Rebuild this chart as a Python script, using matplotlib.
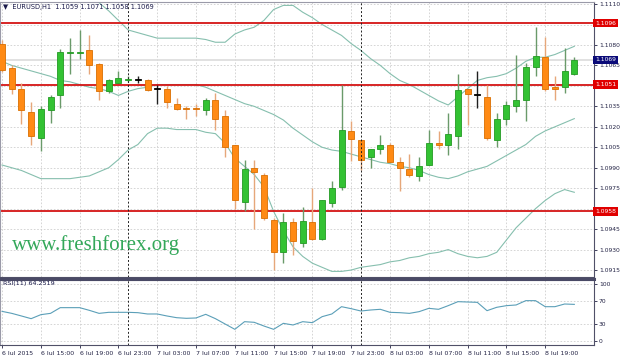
import numpy as np
import matplotlib.pyplot as plt
from matplotlib.lines import Line2D

# EURUSD H1, 6 Jul 11:00 .. 8 Jul 22:00
opens = [1.1081, 1.1063, 1.1048, 1.1031, 1.1012, 1.1032, 1.1043, 1.1074, 1.1074, 1.1076,
         1.1066, 1.1046, 1.1052, 1.1054, 1.1054, 1.1054, 1.1048, 1.1048, 1.1037, 1.1034,
         1.1034, 1.1032, 1.1040, 1.1028, 1.1007, 1.0965, 1.0990, 1.0985, 1.0952, 1.0928,
         1.0950, 1.0935, 1.0950, 1.0938, 1.0964, 1.0976, 1.1017, 1.1010, 1.0998, 1.1004,
         1.1007, 1.0994, 1.0989, 1.0984, 1.0992, 1.1008, 1.1007, 1.1013, 1.1048, 1.1043,
         1.1042, 1.1010, 1.1026, 1.1035, 1.1040, 1.1064, 1.1071, 1.1049, 1.1049, 1.1059]
highs = [1.1084, 1.1065, 1.1052, 1.1038, 1.1035, 1.1043, 1.1077, 1.1085, 1.1091, 1.1087,
         1.1067, 1.1055, 1.1061, 1.1057, 1.1057, 1.1055, 1.1051, 1.1050, 1.1041, 1.1035,
         1.1037, 1.1041, 1.1045, 1.1032, 1.1007, 1.0996, 1.0996, 1.0986, 1.0953, 1.0957,
         1.0953, 1.0961, 1.0975, 1.0966, 1.0980, 1.1051, 1.1024, 1.1010, 1.1004, 1.1014,
         1.1008, 1.0998, 1.1000, 1.0998, 1.1018, 1.1017, 1.1030, 1.1059, 1.1048, 1.1061,
         1.1051, 1.1030, 1.1039, 1.1073, 1.1067, 1.1093, 1.1086, 1.1057, 1.1078, 1.1071]
lows = [1.1060, 1.1044, 1.1022, 1.1007, 1.1002, 1.1023, 1.1034, 1.1059, 1.1070, 1.1059,
        1.1040, 1.1045, 1.1052, 1.1053, 1.1052, 1.1046, 1.1037, 1.1034, 1.1032, 1.1026,
        1.1028, 1.1029, 1.1018, 1.0998, 1.0960, 1.0958, 1.0945, 1.0952, 1.0915, 1.0920,
        1.0926, 1.0932, 1.0937, 1.0937, 1.0961, 1.0974, 1.0995, 1.0988, 1.0990, 1.1000,
        1.0994, 1.0973, 1.0983, 1.0980, 1.0992, 1.1004, 1.0999, 1.1004, 1.1021, 1.1034,
        1.1010, 1.1005, 1.1021, 1.1031, 1.1024, 1.1057, 1.1046, 1.1040, 1.1045, 1.1058]
closes = [1.1062, 1.1048, 1.1032, 1.1013, 1.1033, 1.1042, 1.1075, 1.1075, 1.1075, 1.1065,
          1.1046, 1.1054, 1.1056, 1.1055, 1.1054, 1.1047, 1.1048, 1.1038, 1.1033, 1.1033,
          1.1033, 1.1040, 1.1026, 1.1005, 1.0966, 1.0989, 1.0987, 1.0953, 1.0928, 1.0950,
          1.0936, 1.0951, 1.0938, 1.0966, 1.0975, 1.1018, 1.1011, 1.0996, 1.1004, 1.1007,
          1.0994, 1.0990, 1.0985, 1.0991, 1.1008, 1.1007, 1.1015, 1.1047, 1.1044, 1.1043,
          1.1012, 1.1026, 1.1036, 1.1040, 1.1064, 1.1072, 1.1048, 1.1048, 1.1061, 1.1069]

bb_upper = [1.1143, 1.1141, 1.1139, 1.1137, 1.1135, 1.1131, 1.1126, 1.1123, 1.1118, 1.1114,
            1.1111, 1.1105, 1.1098, 1.1091, 1.1089, 1.1087, 1.1085, 1.1085, 1.1085, 1.1085,
            1.1085, 1.1084, 1.1082, 1.1082, 1.1088, 1.1091, 1.1093, 1.1098, 1.1106, 1.1109,
            1.1109, 1.1104, 1.1100, 1.1095, 1.1091, 1.1087, 1.1081, 1.1076, 1.1070, 1.1065,
            1.1059, 1.1054, 1.1051, 1.1047, 1.1043, 1.1039, 1.1036, 1.1042, 1.1048, 1.1054,
            1.1056, 1.1057, 1.1059, 1.1063, 1.1068, 1.1071, 1.1071, 1.1073, 1.1076, 1.1079]
bb_mid = [1.1068, 1.1065, 1.1063, 1.1061, 1.1059, 1.1057, 1.1054, 1.1053, 1.1051, 1.1049,
          1.1048, 1.1046, 1.1043, 1.1046, 1.1048, 1.1049, 1.1051, 1.1051, 1.1051, 1.1051,
          1.1051, 1.1049, 1.1046, 1.1043, 1.1040, 1.1037, 1.1035, 1.1032, 1.1029, 1.1025,
          1.1019, 1.1014, 1.1009, 1.1005, 1.1003, 1.1002, 1.1000, 1.0998, 1.0996, 1.0994,
          1.0993, 1.0991, 1.0990, 1.0988, 1.0985, 1.0983, 1.0982, 1.0984, 1.0987, 1.0989,
          1.0991, 1.0995, 1.0999, 1.1003, 1.1007, 1.1013, 1.1017, 1.1020, 1.1023, 1.1026]
bb_lower = [1.0992, 1.0990, 1.0988, 1.0985, 1.0982, 1.0982, 1.0982, 1.0982, 1.0983, 1.0984,
            1.0987, 1.0990, 1.0996, 1.1003, 1.1007, 1.1015, 1.1019, 1.1019, 1.1018, 1.1018,
            1.1018, 1.1016, 1.1015, 1.1008, 1.0997, 1.0991, 1.0985, 1.0976, 1.0958, 1.0944,
            1.0932, 1.0925, 1.0920, 1.0917, 1.0914, 1.0914, 1.0915, 1.0917, 1.0918, 1.0919,
            1.0921, 1.0922, 1.0924, 1.0925, 1.0927, 1.0928, 1.0930, 1.0927, 1.0925, 1.0924,
            1.0925, 1.0928, 1.0937, 1.0946, 1.0953, 1.0960, 1.0966, 1.0971, 1.0974, 1.0972]

rsi = [52.0, 48.5, 43.9, 39.2, 46.2, 48.5, 58.5, 58.5, 58.5, 53.8,
       48.5, 50.3, 50.3, 50.3, 49.7, 47.4, 47.4, 43.9, 40.9, 39.8,
       40.4, 46.8, 39.2, 29.8, 20.5, 33.9, 32.8, 26.3, 20.5, 31.0,
       28.1, 33.9, 32.2, 42.7, 47.4, 60.2, 56.7, 52.6, 54.4, 55.6,
       50.3, 49.7, 48.5, 51.5, 57.3, 55.6, 62.0, 69.0, 68.4, 67.8,
       53.2, 59.1, 62.0, 63.2, 70.8, 70.8, 60.2, 60.2, 64.9, 64.25]

time_labels = ["6 Jul 2015", "6 Jul 15:00", "6 Jul 19:00", "6 Jul 23:00", "7 Jul 03:00",
               "7 Jul 07:00", "7 Jul 11:00", "7 Jul 15:00", "7 Jul 19:00", "7 Jul 23:00",
               "8 Jul 03:00", "8 Jul 07:00", "8 Jul 11:00", "8 Jul 15:00", "8 Jul 19:00"]
day_breaks = [13, 37]
levels = [1.1096, 1.1051, 1.0958]
last_price = 1.1069
price_ticks = [1.0915, 1.0930, 1.0945, 1.0960, 1.0975, 1.0990, 1.1005, 1.1020,
               1.1035, 1.1050, 1.1065, 1.1080, 1.1095, 1.1110]
rsi_ticks = [0, 30, 70, 100]

W, H = 620, 355
def box(x0, y0, x1, y1):
    return [x0 / W, 1 - y1 / H, (x1 - x0) / W, (y1 - y0) / H]

fig = plt.figure(figsize=(6.2, 3.55), dpi=100)
ax = fig.add_axes(box(0, 2, 594, 277))
ax2 = fig.add_axes(box(0, 280, 594, 345))

o = np.array(opens); c = np.array(closes)
idx = np.arange(len(o))
up = c > o
down = c < o
body_col = np.where(up, '#33c233', np.where(down, '#ff8a14', '#000000'))
edge_col = np.where(up, '#239a23', np.where(down, '#d96f00', '#000000'))
wick_col = np.where(up, '#6a9a6a', np.where(down, '#e6a77a', '#202020'))

ax.vlines(idx, lows, highs, colors=wick_col, lw=1, zorder=3)
ax.bar(idx, np.maximum(np.abs(c - o), 0.00007), bottom=np.minimum(o, c), width=0.62,
       color=body_col, edgecolor=edge_col, lw=0.6, zorder=4)

band_col = '#86bfae'
for band in (bb_upper, bb_mid, bb_lower):
    ax.plot(idx, band, color=band_col, lw=0.8, zorder=2)

for lv in levels:
    ax.axhline(lv, color='#d41414', lw=1.3, zorder=2.5)
ax.axhline(last_price, color='#dcdcdc', lw=1.2, zorder=1)

ax.set_xlim(-0.21, 61.03)
ax.set_ylim(1.09099, 1.11115)
ax2.set_xlim(-0.21, 61.03)
ax2.set_ylim(-7, 107)

tick_pos = np.arange(0, len(o), 4)
for a in (ax, ax2):
    a.set_xticks(tick_pos)
    a.grid(True, color='#cfcfcf', ls=(0, (2, 2)), lw=0.6)
    a.set_axisbelow(True)
    for d in day_breaks:
        a.axvline(d, color='#222222', ls=(0, (2, 2)), lw=0.7, zorder=5)
    a.yaxis.tick_right()
    a.tick_params(axis='y', direction='out', length=2.5, width=0.6, labelsize=4.3,
                  colors='#222244', pad=1)
    for s in a.spines.values():
        s.set_color('#9a9aa8')
        s.set_linewidth(0.8)
    a.spines['right'].set_color('#505068')
    a.spines['bottom'].set_color('#505068')

# tick labels hidden under the level tags in the reference are left blank
hidden = {1.1095, 1.1050, 1.0960}
ax.set_yticks(price_ticks)
ax.set_yticklabels(['' if p in hidden else f'{p:.4f}' for p in price_ticks])
ax.tick_params(axis='x', length=0, labelbottom=False)

ax2.plot(idx, rsi, color='#5b9fb8', lw=0.8, zorder=3)
ax2.set_yticks(rsi_ticks)
ax2.set_xticklabels(time_labels)
ax2.tick_params(axis='x', direction='out', length=2.5, width=0.6, labelsize=4.5,
                colors='#222244', pad=1.5)
for lbl in ax2.get_xticklabels():
    lbl.set_ha('left')

# price tags on the right scale
for lv in levels:
    ax.text(1.002, lv, f'{lv:.4f}', transform=ax.get_yaxis_transform(), ha='left',
            va='center', fontsize=4.3, color='white', clip_on=False, zorder=10,
            bbox=dict(boxstyle='square,pad=0.3', fc='#e00000', ec='none'))
ax.text(1.002, last_price, f'{last_price:.4f}', transform=ax.get_yaxis_transform(),
        ha='left', va='center', fontsize=4.3, color='white', clip_on=False, zorder=10,
        bbox=dict(boxstyle='square,pad=0.3', fc='#0a0a78', ec='none'))

# pane separator
fig.add_artist(Line2D([0, 594 / W], [1 - 278.5 / H] * 2, color='#4a4a66', lw=2.2))

fig.text(3 / W, 1 - 7 / H, '\u25bc  EURUSD,H1  1.1059 1.1071 1.1058 1.1069', fontsize=4.8,
         color='#1a1a4a', va='center')
fig.text(3 / W, 1 - 284 / H, 'RSI(11) 64.2519', fontsize=4.6, color='#1a1a4a', va='center')
fig.text(12 / W, 1 - 245 / H, 'www.freshforex.org', fontsize=15, family='Liberation Serif',
         color='#34a85a', va='center')

fig.savefig('out.png', dpi=100)
